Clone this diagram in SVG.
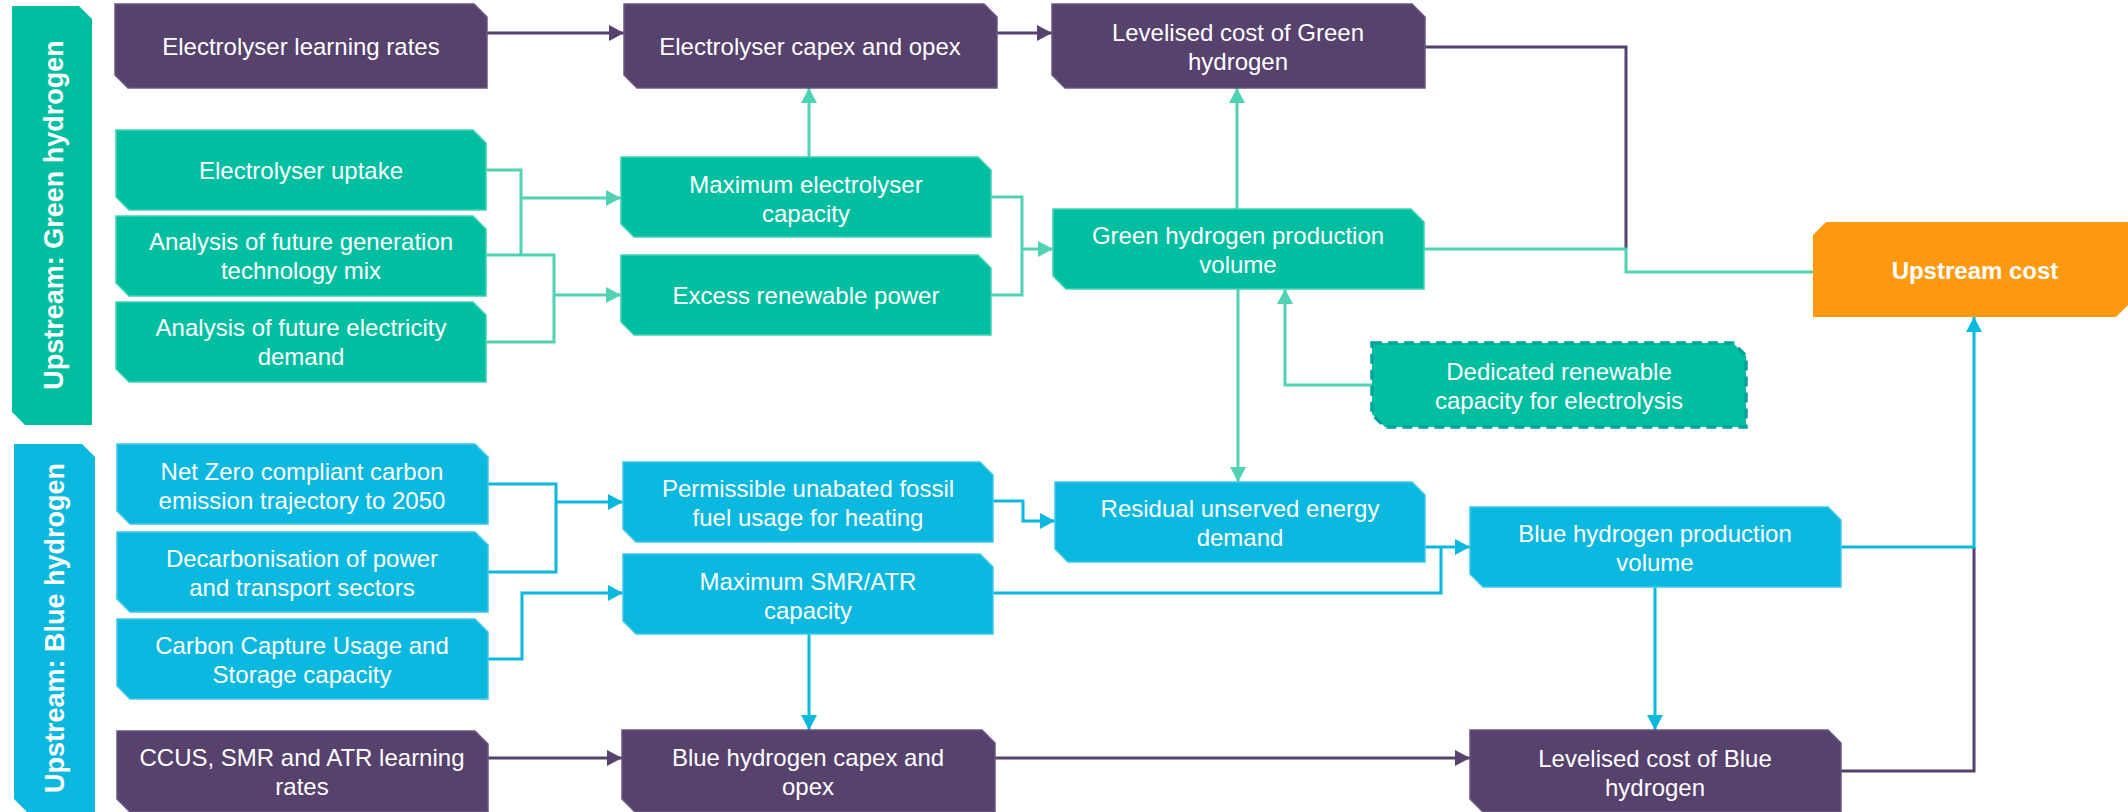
<svg xmlns="http://www.w3.org/2000/svg" width="2128" height="812" viewBox="0 0 2128 812">
<defs>
<style>
.pu{fill:#56426c;stroke:#6a5682;stroke-width:1.5}
.gr{fill:#00bfa0;stroke:#3fd2b6;stroke-width:1.5}
.bl{fill:#0ab8e0;stroke:#3cc9ea;stroke-width:1.5}
.or{fill:#ff9a10}
.dash{fill:#00bfa0;stroke:#00a39c;stroke-width:3.5;stroke-dasharray:10 6}
.t{font-family:"Liberation Sans",Arial,sans-serif;font-size:24px;fill:#ffffff;text-anchor:middle}
.tb{font-family:"Liberation Sans",Arial,sans-serif;font-size:27px;font-weight:bold;fill:#ffffff;text-anchor:middle}
.cp{fill:none;stroke:#56426c;stroke-width:3}
.cg{fill:none;stroke:#50d2b4;stroke-width:3}
.cb{fill:none;stroke:#0ab8e0;stroke-width:3}
</style>
<marker id="ap" markerUnits="userSpaceOnUse" markerWidth="15" markerHeight="16" refX="15" refY="8" orient="auto"><path d="M0,0 L15,8 L0,16 Z" fill="#56426c"/></marker>
<marker id="ag" markerUnits="userSpaceOnUse" markerWidth="15" markerHeight="16" refX="15" refY="8" orient="auto"><path d="M0,0 L15,8 L0,16 Z" fill="#50d2b4"/></marker>
<marker id="ab" markerUnits="userSpaceOnUse" markerWidth="15" markerHeight="16" refX="15" refY="8" orient="auto"><path d="M0,0 L15,8 L0,16 Z" fill="#0ab8e0"/></marker>
</defs>
<rect width="2128" height="812" fill="#ffffff"/>

<g id="bar-green">
<polygon points="12,6 79,6 92,19 92,425 25,425 12,412" fill="#00bfa0"/>
<text class="tb" transform="translate(63,215) rotate(-90)">Upstream: Green hydrogen</text>
</g>
<g id="bar-blue">
<polygon points="14,444 82,444 95,457 95,812 27,812 14,799" fill="#0ab8e0"/>
<text class="tb" transform="translate(64,628) rotate(-90)">Upstream: Blue hydrogen</text>
</g>

<g id="connectors">
<path class="cp" d="M487,33 H624" marker-end="url(#ap)"/>
<path class="cp" d="M997,33 H1052" marker-end="url(#ap)"/>
<path class="cp" d="M1425,47 H1626 V249"/>
<path class="cp" d="M488,758 H622" marker-end="url(#ap)"/>
<path class="cp" d="M995,758 H1470" marker-end="url(#ap)"/>
<path class="cp" d="M1841,771 H1974 V547"/>

<path class="cg" d="M486,170 H521 V255"/>
<path class="cg" d="M521,198 H621" marker-end="url(#ag)"/>
<path class="cg" d="M486,255 H554 V342 H486"/>
<path class="cg" d="M554,295 H621" marker-end="url(#ag)"/>
<path class="cg" d="M809,157 V88" marker-end="url(#ag)"/>
<path class="cg" d="M991,197 H1022 V295 H991"/>
<path class="cg" d="M1022,249 H1053" marker-end="url(#ag)"/>
<path class="cg" d="M1237,209 V88" marker-end="url(#ag)"/>
<path class="cg" d="M1238,289 V482" marker-end="url(#ag)"/>
<path class="cg" d="M1372,385 H1285 V289" marker-end="url(#ag)"/>
<path class="cg" d="M1424,249 H1626 V272 H1813"/>

<path class="cb" d="M488,484 H556 V572 H488"/>
<path class="cb" d="M556,502 H623" marker-end="url(#ab)"/>
<path class="cb" d="M488,659 H522 V593 H623" marker-end="url(#ab)"/>
<path class="cb" d="M993,501 H1023 V521 H1055" marker-end="url(#ab)"/>
<path class="cb" d="M993,593 H1441 V547"/>
<path class="cb" d="M1425,547 H1470" marker-end="url(#ab)"/>
<path class="cb" d="M809,634 V730" marker-end="url(#ab)"/>
<path class="cb" d="M1655,587 V730" marker-end="url(#ab)"/>
<path class="cb" d="M1841,547 H1974 V317" marker-end="url(#ab)"/>
</g>

<g id="n-electrolyser-learning-rates">
<polygon class="pu" points="115,4 474,4 487,17 487,88 128,88 115,75"/>
<text class="t" x="301" y="55">Electrolyser learning rates</text>
</g>
<g id="n-electrolyser-capex">
<polygon class="pu" points="624,4 984,4 997,17 997,88 637,88 624,75"/>
<text class="t" x="810" y="55">Electrolyser capex and opex</text>
</g>
<g id="n-lcog">
<polygon class="pu" points="1052,4 1412,4 1425,17 1425,88 1065,88 1052,75"/>
<text class="t" x="1238" y="41">Levelised cost of Green</text>
<text class="t" x="1238" y="70">hydrogen</text>
</g>
<g id="n-electrolyser-uptake">
<polygon class="gr" points="116,130 473,130 486,143 486,210 129,210 116,197"/>
<text class="t" x="301" y="179">Electrolyser uptake</text>
</g>
<g id="n-generation-mix">
<polygon class="gr" points="116,216 473,216 486,229 486,296 129,296 116,283"/>
<text class="t" x="301" y="250">Analysis of future generation</text>
<text class="t" x="301" y="279">technology mix</text>
</g>
<g id="n-electricity-demand">
<polygon class="gr" points="116,302 473,302 486,315 486,382 129,382 116,369"/>
<text class="t" x="301" y="336">Analysis of future electricity</text>
<text class="t" x="301" y="365">demand</text>
</g>
<g id="n-max-electrolyser">
<polygon class="gr" points="621,157 978,157 991,170 991,237 634,237 621,224"/>
<text class="t" x="806" y="193">Maximum electrolyser</text>
<text class="t" x="806" y="222">capacity</text>
</g>
<g id="n-excess-renewable">
<polygon class="gr" points="621,255 978,255 991,268 991,335 634,335 621,322"/>
<text class="t" x="806" y="304">Excess renewable power</text>
</g>
<g id="n-ghpv">
<polygon class="gr" points="1053,209 1411,209 1424,222 1424,289 1066,289 1053,276"/>
<text class="t" x="1238" y="244">Green hydrogen production</text>
<text class="t" x="1238" y="273">volume</text>
</g>
<g id="n-dedicated-renewable">
<polygon class="dash" points="1372,343 1733,343 1746,356 1746,427 1385,427 1372,414"/>
<text class="t" x="1559" y="380">Dedicated renewable</text>
<text class="t" x="1559" y="409">capacity for electrolysis</text>
</g>
<g id="n-upstream-cost">
<polygon class="or" points="1826,222 2128,222 2128,305 2116,317 1813,317 1813,235"/>
<text class="tb" x="1975" y="279" style="font-size:24px">Upstream cost</text>
</g>

<g id="n-net-zero">
<polygon class="bl" points="117,444 475,444 488,457 488,524 130,524 117,511"/>
<text class="t" x="302" y="480">Net Zero compliant carbon</text>
<text class="t" x="302" y="509">emission trajectory to 2050</text>
</g>
<g id="n-decarbonisation">
<polygon class="bl" points="117,532 475,532 488,545 488,612 130,612 117,599"/>
<text class="t" x="302" y="567">Decarbonisation of power</text>
<text class="t" x="302" y="596">and transport sectors</text>
</g>
<g id="n-ccus-capacity">
<polygon class="bl" points="117,619 475,619 488,632 488,699 130,699 117,686"/>
<text class="t" x="302" y="654">Carbon Capture Usage and</text>
<text class="t" x="302" y="683">Storage capacity</text>
</g>
<g id="n-ccus-learning-rates">
<polygon class="pu" points="117,731 475,731 488,744 488,812 130,812 117,799"/>
<text class="t" x="302" y="766">CCUS, SMR and ATR learning</text>
<text class="t" x="302" y="795">rates</text>
</g>
<g id="n-permissible-fossil">
<polygon class="bl" points="623,462 980,462 993,475 993,542 636,542 623,529"/>
<text class="t" x="808" y="497">Permissible unabated fossil</text>
<text class="t" x="808" y="526">fuel usage for heating</text>
</g>
<g id="n-max-smr-atr">
<polygon class="bl" points="623,554 980,554 993,567 993,634 636,634 623,621"/>
<text class="t" x="808" y="590">Maximum SMR/ATR</text>
<text class="t" x="808" y="619">capacity</text>
</g>
<g id="n-blue-capex">
<polygon class="pu" points="622,730 982,730 995,743 995,812 635,812 622,799"/>
<text class="t" x="808" y="766">Blue hydrogen capex and</text>
<text class="t" x="808" y="795">opex</text>
</g>
<g id="n-residual-demand">
<polygon class="bl" points="1055,482 1412,482 1425,495 1425,562 1068,562 1055,549"/>
<text class="t" x="1240" y="517">Residual unserved energy</text>
<text class="t" x="1240" y="546">demand</text>
</g>
<g id="n-bhpv">
<polygon class="bl" points="1470,507 1828,507 1841,520 1841,587 1483,587 1470,574"/>
<text class="t" x="1655" y="542">Blue hydrogen production</text>
<text class="t" x="1655" y="571">volume</text>
</g>
<g id="n-lcob">
<polygon class="pu" points="1470,730 1828,730 1841,743 1841,812 1483,812 1470,799"/>
<text class="t" x="1655" y="767">Levelised cost of Blue</text>
<text class="t" x="1655" y="796">hydrogen</text>
</g>
</svg>
